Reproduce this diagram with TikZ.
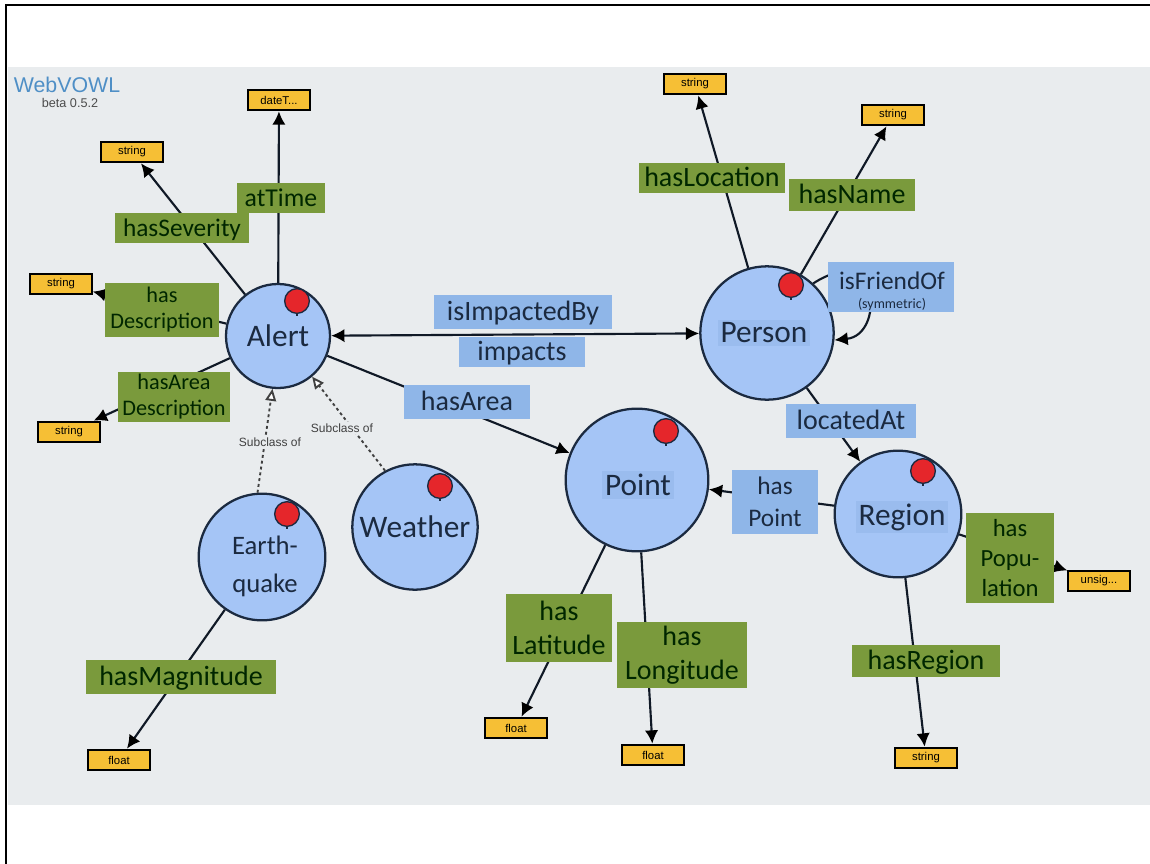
\documentclass[tikz,border=0pt]{standalone}
\usepackage{fontspec}
\setmainfont{Carlito}
\setsansfont{Liberation Sans}
\usetikzlibrary{arrows.meta}
\definecolor{slide}{HTML}{E9ECEE}
\definecolor{classblue}{HTML}{A5C5F6}
\definecolor{namepatch}{HTML}{9ABCEE}
\definecolor{edgedark}{HTML}{1B2A40}
\definecolor{propgreen}{HTML}{7A9A3C}
\definecolor{propblue}{HTML}{8FB6E8}
\definecolor{typeyellow}{HTML}{F6BF35}
\definecolor{markred}{HTML}{E5262B}
\definecolor{logoblue}{HTML}{4F8FC6}
\tikzset{
  class/.style={circle,draw=edgedark,line width=1.7pt,fill=classblue,inner sep=0pt,align=center,text=edgedark,font=\fontsize{23.5}{28}\selectfont},
  classname/.style={fill=namepatch,text=edgedark,inner sep=2pt,font=\fontsize{23.5}{28}\selectfont},
  datatype/.style={draw=black,line width=1.5pt,fill=typeyellow,minimum width=46pt,minimum height=15.5pt,inner sep=0pt,font=\sffamily\fontsize{8.5}{10}\selectfont},
  marker/.style={circle,draw=edgedark,line width=1pt,fill=markred,minimum size=18.5pt,inner sep=0pt},
  prop/.style={line width=1.6pt,draw=edgedark!60!black,-{Latex[length=10pt,width=10pt,black]}},
  subclass/.style={line width=1.4pt,dash pattern=on 2.2pt off 2.2pt,draw=black!75,-{Triangle[open,length=9pt,width=8pt,fill=white]}},
  greenlabel/.style={fill=propgreen,text=black!85!green,align=center,inner sep=0pt,font=\fontsize{21}{25.5}\selectfont},
  bluelabel/.style={fill=propblue,text=edgedark,align=center,inner sep=0pt,font=\fontsize{21}{24.5}\selectfont},
  oneline/.style={text height=16.5pt,text depth=4pt},
  narrowtext/.style={font=\fontsize{16.7}{19.5}\selectfont},
  subtext/.style={fill=slide,inner sep=1.5pt,text=black!75,font=\sffamily\fontsize{9}{10}\selectfont}
}
\begin{document}
\begin{tikzpicture}[x=0.75pt,y=-0.75pt]
\useasboundingbox (0,0) rectangle (1150,864);
\fill[white] (0,0) rectangle (1150,864);
\fill[slide] (8,67) rectangle (1150,805);
\draw[line width=1.5pt] (6,864) -- (6,5) -- (1150,5);
\node[text=logoblue,font=\sffamily\fontsize{16}{18}\selectfont] (logo) at (67,85) {WebVOWL};
\node[text=black!70,font=\sffamily\fontsize{9.5}{11}\selectfont] (beta) at (70,103) {beta 0.5.2};
% classes
\node[class,minimum size=78pt] (alert) at (278,336) {Alert};
\node[class,minimum size=100pt] (person) at (767,333) {};
\node[class,minimum size=107pt] (point) at (637,480) {};
\node[class,minimum size=95pt] (region) at (898,514) {};
\node[class,minimum size=95pt] (earthquake) at (262,557) {};
\node[class,minimum size=94pt] (weather) at (415,527) {Weather};
\node[classname] (personname) at (764,333) {Person};
\node[classname] (pointname) at (638,485) {Point};
\node[classname] (regionname) at (902,517) {Region};
\node[align=center,text=edgedark,font=\fontsize{20}{28.5}\selectfont] (earthname) at (265,566) {Earth-\\quake};
% datatypes
\node[datatype] (timetype) at (279,100) {dateT...};
\node[datatype] (severitytype) at (132,152) {string};
\node[datatype] (desctype) at (61,284) {string};
\node[datatype] (areatype) at (69,432) {string};
\node[datatype] (locationtype) at (695,84) {string};
\node[datatype] (nametype) at (893,115) {string};
\node[datatype] (poptype) at (1099,581) {unsig...};
\node[datatype] (regiontype) at (926,758) {string};
\node[datatype] (lattype) at (516,728) {float};
\node[datatype] (longtype) at (653,755) {float};
\node[datatype] (magtype) at (119,760) {float};
% properties
\draw[prop] (alert) -- (timetype);
\draw[prop] (alert) -- (severitytype);
\draw[prop] (alert) -- (desctype);
\draw[prop] (alert) -- (areatype);
\draw[prop] (person) -- (locationtype);
\draw[prop] (person) -- (nametype);
\draw[prop] (region) -- (poptype);
\draw[prop] (region) -- (regiontype);
\draw[prop] (point) -- (lattype);
\draw[prop] (point) -- (longtype);
\draw[prop] (earthquake) -- (magtype);
\draw[prop,{Latex[length=10pt,width=10pt,black]}-{Latex[length=10pt,width=10pt,black]}] (alert) -- (person);
\draw[prop] (alert) -- (point);
\draw[prop] (person) -- (region);
\draw[prop] (region) -- (point);
\draw[prop] (person.47) .. controls (880,240) and (885,335) .. (person.-6);
\draw[subclass] (earthquake.94) -- (alert.-96);
\draw[subclass] (weather.118) -- (alert.-50);
\node[subtext] (sub1) at (270,442) {Subclass of};
\node[subtext] (sub2) at (342,428) {Subclass of};
% markers
\foreach \mname/\mx/\my in {alertmark/297/301,personmark/791/285,pointmark/666/431,regionmark/923/471,earthmark/287/514,weathermark/440/486} {
  \draw[edgedark,line width=1pt] (\mx,\my) -- ++(0,15);
  \node[marker] (\mname) at (\mx,\my) {};
}
% labels
\node[greenlabel,oneline,minimum width=66pt,minimum height=22pt,font=\fontsize{19.3}{24}\selectfont] (attime) at (281,198) {atTime};
\node[greenlabel,oneline,minimum width=101pt,minimum height=22pt,font=\fontsize{19}{24}\selectfont] (hasseverity) at (182,228) {hasSeverity};
\node[greenlabel,narrowtext,minimum width=85pt,minimum height=40pt] (hasdesc) at (162,310) {has\\Description};
\node[greenlabel,narrowtext,minimum width=84pt,minimum height=38pt] (hasareadesc) at (174,397) {hasArea\\Description};
\node[greenlabel,oneline,minimum width=110pt,minimum height=23pt] (haslocation) at (712,178) {hasLocation};
\node[greenlabel,oneline,minimum width=94pt,minimum height=24pt] (hasname) at (852,195) {hasName};
\node[greenlabel,minimum width=66pt,minimum height=68pt,font=\fontsize{18.5}{22.5}\selectfont] (haspop) at (1010,558) {has\\Popu-\\lation};
\node[greenlabel,oneline,minimum width=111pt,minimum height=24pt] (hasregion) at (926,661) {hasRegion};
\node[greenlabel,minimum width=79pt,minimum height=51pt] (haslat) at (559,628) {has\\Latitude};
\node[greenlabel,minimum width=98pt,minimum height=50pt] (haslong) at (682,655) {has\\Longitude};
\node[greenlabel,oneline,minimum width=143pt,minimum height=25pt] (hasmag) at (181,677) {hasMagnitude};
\node[bluelabel,oneline,minimum width=133pt,minimum height=25pt] (impactedby) at (523,312) {isImpactedBy};
\node[bluelabel,oneline,minimum width=95pt,minimum height=23pt] (impacts) at (522,352) {impacts};
\node[bluelabel,oneline,minimum width=95pt,minimum height=25pt] (hasarea) at (467,402) {hasArea};
\node[bluelabel,oneline,minimum width=98pt,minimum height=25pt] (locatedat) at (851,421) {locatedAt};
\node[bluelabel,minimum width=64pt,minimum height=48pt,font=\fontsize{19}{24}\selectfont] (haspoint) at (775,502) {has\\Point};
\node[bluelabel,minimum width=95pt,minimum height=38pt] (friendbox) at (891,287) {};
\node[text=edgedark,font=\fontsize{19}{22}\selectfont] (isfriendof) at (892,281) {isFriendOf};
\node[text=edgedark,font=\fontsize{10.5}{12}\selectfont] (symmetric) at (892,305) {(symmetric)};
\end{tikzpicture}
\end{document}
